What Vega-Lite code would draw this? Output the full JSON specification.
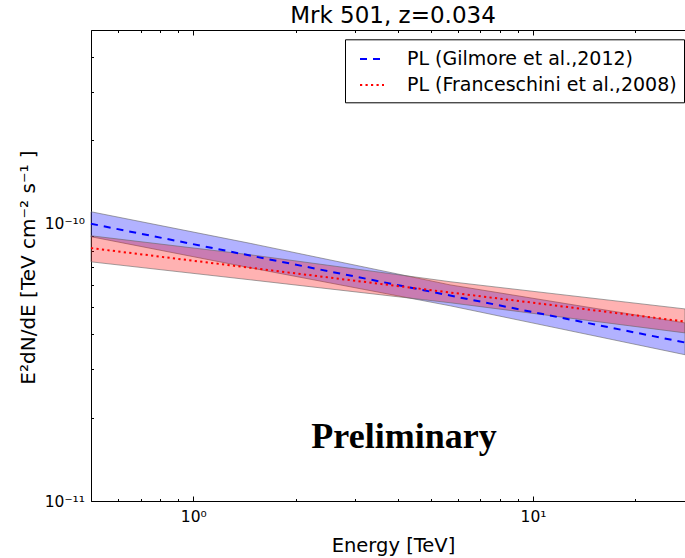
{
  "$schema": "https://vega.github.io/schema/vega-lite/v6.json",
  "width": 594,
  "height": 471,
  "autosize": {"type": "none"},
  "padding": {"left": 91, "top": 30, "right": 0, "bottom": 57},
  "background": "white",
  "title": {"text": "Mrk 501, z=0.034", "font": "DejaVu Sans", "fontSize": 23, "fontWeight": "normal", "color": "black", "baseline": "alphabetic", "offset": 6.7, "dy": 23.3, "dx": 5, "anchor": "middle"},
  "config": {
    "view": {"stroke": null},
    "axis": {"grid": false, "domainColor": "black", "domainWidth": 1, "tickColor": "black", "tickWidth": 1, "labelFont": "DejaVu Sans", "labelColor": "black", "labelFontSize": 15.5, "titleFont": "DejaVu Sans", "titleColor": "black", "titleFontSize": 19.5, "titleFontWeight": "normal", "labelOverlap": false, "labelBound": false, "labelFlush": false}
  },
  "datasets": {
    "bands": [
      {"model": "PL (Gilmore et al.,2012)", "E": 0.5, "lo": 8.98e-11, "hi": 1.105e-10, "mid": 1.0e-10},
      {"model": "PL (Gilmore et al.,2012)", "E": 1.47, "lo": 6.94e-11, "hi": 8.5e-11, "mid": 7.68e-11},
      {"model": "PL (Gilmore et al.,2012)", "E": 5.7, "lo": 5.06e-11, "hi": 6.02e-11, "mid": 5.51e-11},
      {"model": "PL (Gilmore et al.,2012)", "E": 28, "lo": 3.37e-11, "hi": 4.39e-11, "mid": 3.73e-11},
      {"model": "PL (Franceschini et al.,2008)", "E": 0.5, "lo": 7.29e-11, "hi": 9.05e-11, "mid": 8.17e-11},
      {"model": "PL (Franceschini et al.,2008)", "E": 1.47, "lo": 6.28e-11, "hi": 7.73e-11, "mid": 6.94e-11},
      {"model": "PL (Franceschini et al.,2008)", "E": 5.7, "lo": 5.19e-11, "hi": 6.18e-11, "mid": 5.65e-11},
      {"model": "PL (Franceschini et al.,2008)", "E": 28, "lo": 4.04e-11, "hi": 4.93e-11, "mid": 4.44e-11}
    ],
    "note": [
      {"E": 4.17, "F": 1.553e-11, "label": "Preliminary"}
    ]
  },
  "resolve": {"axis": {"x": "independent"}},
  "layer": [
    {
      "data": {"name": "bands"},
      "transform": [{"filter": "datum.model == 'PL (Gilmore et al.,2012)'"}],
      "mark": {"type": "area", "fill": "blue", "fillOpacity": 0.3, "stroke": "#666666", "strokeOpacity": 0.6, "strokeWidth": 1},
      "encoding": {
        "x": {"field": "E", "type": "quantitative", "scale": {"type": "log", "domain": [0.5, 28], "nice": false, "zero": false},
          "axis": {"orient": "bottom", "title": "Energy [TeV]", "titleY": 50, "titleX": 302, "titleBaseline": "alphabetic",
            "values": [0.5, 0.6, 0.7, 0.8, 0.9, 1, 2, 3, 4, 5, 6, 7, 8, 9, 10, 20],
            "tickSize": {"condition": {"test": "datum.value == 1 || datum.value == 10", "value": -5}, "value": -2.5},
            "labelExpr": "datum.value == 1 ? '10⁰' : (datum.value == 10 ? '10¹' : '')", "labelPadding": 13}},
        "y": {"field": "lo", "type": "quantitative", "scale": {"type": "log", "domain": [1e-11, 5e-10], "nice": false, "zero": false},
          "axis": {"title": "E²dN/dE [TeV cm⁻² s⁻¹ ]", "titleX": -57, "titleY": 237, "titleBaseline": "alphabetic", "titleAngle": -90, "titleAlign": "center", "titleFontSize": 20,
            "values": [1e-11, 2e-11, 3e-11, 4e-11, 5e-11, 6e-11, 7e-11, 8e-11, 9e-11, 1e-10, 2e-10, 3e-10, 4e-10],
            "tickSize": {"condition": {"test": "datum.value == 1e-10 || datum.value == 1e-11", "value": -5}, "value": -2.5},
            "labelExpr": "datum.value == 1e-10 ? '10⁻¹⁰' : (datum.value == 1e-11 ? '10⁻¹¹' : '')", "labelPadding": 11.5}},
        "y2": {"field": "hi"}
      }
    },
    {
      "data": {"name": "bands"},
      "transform": [{"filter": "datum.model == 'PL (Franceschini et al.,2008)'"}],
      "mark": {"type": "area", "fill": "red", "fillOpacity": 0.3, "stroke": "#666666", "strokeOpacity": 0.6, "strokeWidth": 1},
      "encoding": {
        "x": {"field": "E", "type": "quantitative", "axis": null},
        "y": {"field": "lo", "type": "quantitative"},
        "y2": {"field": "hi"}
      }
    },
    {
      "data": {"name": "bands"},
      "mark": {"type": "line", "strokeWidth": 2, "strokeCap": "butt"},
      "encoding": {
        "x": {"field": "E", "type": "quantitative", "axis": null},
        "y": {"field": "mid", "type": "quantitative"},
        "stroke": {"field": "model", "type": "nominal", "scale": {"domain": ["PL (Gilmore et al.,2012)", "PL (Franceschini et al.,2008)"], "range": ["blue", "red"]},
          "legend": {"title": null, "orient": "none", "legendX": 254, "legendY": 9.3, "symbolType": "stroke", "symbolSize": 576, "symbolStrokeWidth": 2, "labelFont": "DejaVu Sans", "labelFontSize": 19, "labelColor": "black", "labelOffset": 22, "symbolOffset": 7.3, "padding": 6.7, "rowPadding": 3, "strokeColor": "black", "fillColor": "white", "labelLimit": 400}},
        "strokeDash": {"field": "model", "type": "nominal", "scale": {"domain": ["PL (Gilmore et al.,2012)", "PL (Franceschini et al.,2008)"], "range": [[7, 6], [2.2, 3.3]]},
          "legend": {"title": null, "orient": "none", "legendX": 254, "legendY": 9.3, "symbolType": "stroke", "symbolSize": 576, "symbolStrokeWidth": 2, "labelFont": "DejaVu Sans", "labelFontSize": 19, "labelColor": "black", "labelOffset": 22, "symbolOffset": 7.3, "padding": 6.7, "rowPadding": 3, "strokeColor": "black", "fillColor": "white", "labelLimit": 400}},
        "order": {"field": "E"}
      }
    },
    {
      "data": {"name": "note"},
      "mark": {"type": "text", "font": "Liberation Serif", "fontSize": 36, "fontWeight": "bold", "color": "black", "align": "center", "baseline": "alphabetic"},
      "encoding": {
        "x": {"field": "E", "type": "quantitative",
          "axis": {"orient": "top", "title": null, "labels": false,
            "values": [0.5, 0.6, 0.7, 0.8, 0.9, 1, 2, 3, 4, 5, 6, 7, 8, 9, 10, 20],
            "tickSize": {"condition": {"test": "datum.value == 1 || datum.value == 10", "value": -5}, "value": -2.5}}},
        "y": {"field": "F", "type": "quantitative"},
        "text": {"field": "label"}
      }
    }
  ]
}
